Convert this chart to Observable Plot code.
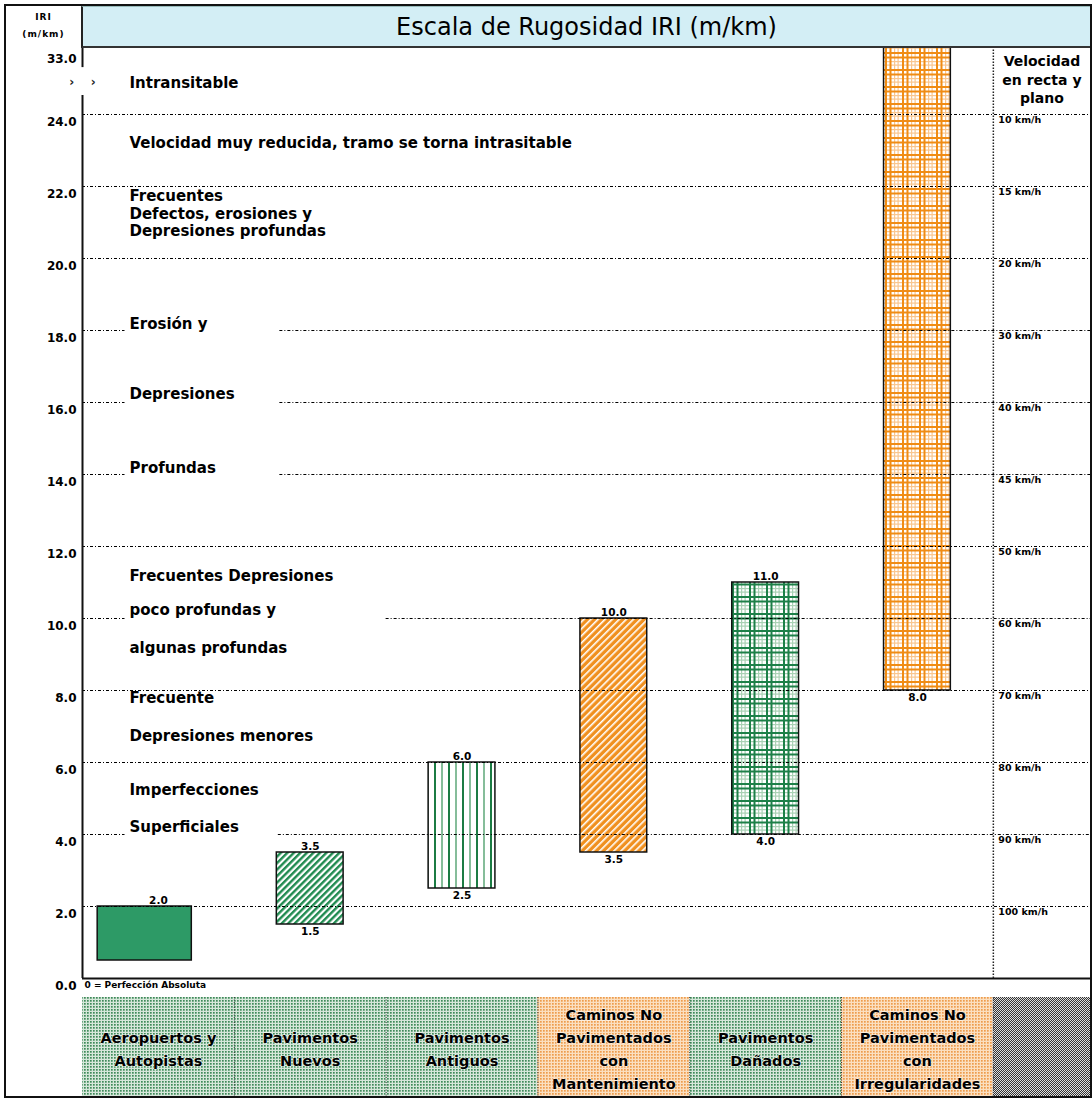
<!DOCTYPE html>
<html>
<head>
<meta charset="utf-8">
<script src="https://cdn.jsdelivr.net/npm/d3@7"></script>
<script src="https://cdn.jsdelivr.net/npm/@observablehq/plot@0.6"></script>
<style>
  body { margin: 0; background: #fff; }
  #wrap { position: relative; width: 1092px; height: 1099px; overflow: hidden; background: #fff; }
  #frame { position: absolute; left: 4px; top: 4px; width: 1084px; height: 1090px; border: 2px solid #111; pointer-events: none; }
  #titlebar { position: absolute; left: 81px; top: 6px; width: 1009px; height: 42px; box-sizing: border-box;
    background: #d3eef5; border-left: 2px solid #222; border-bottom: 2px solid #333; border-top: 1px solid #9bb;
    display: flex; align-items: center; justify-content: center;
    font-family: "DejaVu Sans", sans-serif; font-size: 24px; color: #000; }
  #iri { position: absolute; left: 6px; top: 9px; width: 75px; text-align: center;
    font-family: "DejaVu Sans", sans-serif; font-weight: bold; font-size: 9px; line-height: 17px; letter-spacing: 1px; }
  .plot { position: absolute; left: 0; }
</style>
</head>
<body>
<svg width="0" height="0" style="position:absolute">
  <defs>
    <pattern id="hatchG" width="4.6" height="4.6" patternUnits="userSpaceOnUse" patternTransform="rotate(45)">
      <rect width="4.6" height="4.6" fill="#ffffff"/><rect width="2.4" height="4.6" fill="#1f8a4f"/>
    </pattern>
    <pattern id="stripeG" width="14" height="10" patternUnits="userSpaceOnUse">
      <rect width="14" height="10" fill="#ffffff"/>
      <rect x="0" width="2" height="10" fill="#1c7c44"/>
      <rect x="7" width="2" height="10" fill="#86bd9a"/>
    </pattern>
    <pattern id="hatchO" width="5" height="5" patternUnits="userSpaceOnUse" patternTransform="rotate(45)">
      <rect width="5" height="5" fill="#f0901f"/><rect width="1.6" height="5" fill="#ffffff"/>
    </pattern>
    <pattern id="plaidG" width="17" height="17" patternUnits="userSpaceOnUse">
      <rect width="17" height="17" fill="#ffffff"/>
      <g fill="#a9d1b4">
        <rect x="10" width="1.2" height="17"/><rect x="13.5" width="1.2" height="17"/>
        <rect y="10" width="17" height="1.2"/><rect y="13.5" width="17" height="1.2"/>
      </g>
      <g fill="#1d8048">
        <rect x="1" width="2" height="17"/><rect x="5.5" width="2" height="17"/>
        <rect y="1" width="17" height="2"/><rect y="5.5" width="17" height="2"/>
      </g>
    </pattern>
    <pattern id="plaidO" width="17" height="17" patternUnits="userSpaceOnUse">
      <rect width="17" height="17" fill="#ffffff"/>
      <g fill="#f9c68f">
        <rect x="10" width="1.2" height="17"/><rect x="13.5" width="1.2" height="17"/>
        <rect y="10" width="17" height="1.2"/><rect y="13.5" width="17" height="1.2"/>
      </g>
      <g fill="#f08c14">
        <rect x="1" width="2" height="17"/><rect x="5.5" width="2" height="17"/>
        <rect y="1" width="17" height="2"/><rect y="5.5" width="17" height="2"/>
      </g>
    </pattern>
    <pattern id="dotG" width="3" height="3" patternUnits="userSpaceOnUse">
      <rect width="3" height="3" fill="#d6e7da"/><rect width="1.7" height="1.7" fill="#3f8a5a"/>
    </pattern>
    <pattern id="dotO" width="3" height="3" patternUnits="userSpaceOnUse">
      <rect width="3" height="3" fill="#fbdfc0"/><rect width="1.7" height="1.7" fill="#ee9c4c"/>
    </pattern>
    <pattern id="dotK" width="2" height="2" patternUnits="userSpaceOnUse">
      <rect width="2" height="2" fill="#dddddd"/><rect width="1" height="1" fill="#333"/><rect x="1" y="1" width="1" height="1" fill="#333"/>
    </pattern>
  </defs>
</svg>
<div id="wrap">
  <div id="main" class="plot" style="top:0"></div>
  <div id="strip" class="plot" style="top:997px"></div>
  <div id="titlebar">Escala de Rugosidad IRI (m/km)</div>
  <div id="iri">IRI<br>(m/km)</div>
  <div id="frame"></div>
</div>
<script>
// ---------- data ----------
const categories = [
  "Aeropuertos y\nAutopistas",
  "Pavimentos\nNuevos",
  "Pavimentos\nAntiguos",
  "Caminos No\nPavimentados\ncon\nMantenimiento",
  "Pavimentos\nDañados",
  "Caminos No\nPavimentados\ncon\nIrregularidades"
];
const lows  = [0.5, 1.5, 2.5, 3.5, 4.0, 8.0];
const highs = [2.0, 3.5, 6.0, 10.0, 11.0, 33.0];
const topLabels    = ["2.0", "3.5", "6.0", "10.0", "11.0", ""];
const bottomLabels = ["", "1.5", "2.5", "3.5", "4.0", "8.0"];

const yTicks      = [0, 2, 4, 6, 8, 10, 12, 14, 16, 18, 20, 22, 24, 33];
const yTickLabels = ["0.0", "2.0", "4.0", "6.0", "8.0", "10.0", "12.0", "14.0", "16.0", "18.0", "20.0", "22.0", "24.0", "33.0"];

const gridValues  = [2, 4, 6, 8, 10, 12, 14, 16, 18, 20, 22, 24];
const speedLabels = ["100 km/h", "90 km/h", "80 km/h", "70 km/h", "60 km/h", "50 km/h", "45 km/h", "40 km/h", "30 km/h", "20 km/h", "15 km/h", "10 km/h"];

const descTexts = [
  "Intransitable",
  "Velocidad muy reducida, tramo se torna intrasitable",
  "Frecuentes\nDefectos, erosiones y\nDepresiones profundas",
  "Erosión y",
  "Depresiones",
  "Profundas",
  "Frecuentes Depresiones",
  "poco profundas y",
  "algunas profundas",
  "Frecuente",
  "Depresiones menores",
  "Imperfecciones",
  "Superficiales"
];
const descY = [28.3, 23.22, 21.26, 18.2, 16.25, 14.2, 11.2, 10.25, 9.2, 7.8, 6.75, 5.25, 4.22];

const speedHeader = "Velocidad\nen recta y\nplano";
const zeroNote = "0 = Perfección Absoluta";

// ---------- styles / layout ----------
const barFills  = ["#2d9a66", "url(#hatchG)", "url(#stripeG)", "url(#hatchO)", "url(#plaidG)", "url(#plaidO)"];
const cellFills = ["url(#dotG)", "url(#dotG)", "url(#dotG)", "url(#dotO)", "url(#dotG)", "url(#dotO)", "url(#dotK)"];
const nCat = categories.length;
const xMax = 6.64;                     // extra column for speed labels
const gapEnd = {4: 1.29, 10: 2.0, 14: 1.30, 16: 1.30, 18: 1.30}; // line breaks for labels
const FONT = "DejaVu Sans";

// broken axis: above 24 the scale is compressed
const yTransform = v => v <= 24 ? v : 24 + (v - 24) * (67 / 9 / 36);

const bars = categories.map((c, i) => ({i, low: lows[i], high: highs[i], top: topLabels[i], bottom: bottomLabels[i]}));
const gridSegs = gridValues.flatMap(v => gapEnd[v] !== undefined
  ? [{y: v, x1: 0, x2: 0.28}, {y: v, x1: gapEnd[v], x2: xMax}]
  : [{y: v, x1: 0, x2: xMax}]);
const axisSegs = [{y1: 0, y2: 26.55}, {y1: 30.3, y2: 33}];
const desc = descTexts.map((t, i) => ({t, y: descY[i]}));
const speeds = gridValues.map((v, i) => ({v, t: speedLabels[i]}));
const ticks = yTicks.map((v, i) => ({v, t: yTickLabels[i]}));
const tickStyle = {x: 0, y: "v", text: "t", textAnchor: "end", dx: -6, lineAnchor: "top",
  fontSize: 12, fontWeight: "bold", ariaLabel: "ticklbl"};

const main = Plot.plot({
  width: 1092, height: 1000,
  marginLeft: 82, marginRight: 2, marginTop: 47, marginBottom: 22,
  x: {domain: [0, xMax], range: [82, 1090], axis: null},
  y: {domain: [0, yTransform(33)], range: [978, 47], transform: yTransform, axis: null},
  color: {type: "identity"},
  style: {fontFamily: FONT, fontSize: "10px", color: "#000", background: "transparent", overflow: "visible"},
  marks: [
    Plot.rect(bars, {x1: d => d.i + (d.i === 0 ? 0.10 : 0.28), x2: d => d.i + 0.72, y1: "low", y2: "high",
      fill: d => barFills[d.i], stroke: "#111", strokeWidth: 1.5}),
    Plot.ruleY(gridSegs, {y: "y", x1: "x1", x2: "x2", stroke: "#000", strokeWidth: 1.2, strokeDasharray: "3,2,1,2"}),
    Plot.ruleY([0], {stroke: "#111", strokeWidth: 2}),
    Plot.ruleX(axisSegs, {x: 0, y1: "y1", y2: "y2", stroke: "#111", strokeWidth: 2}),
    Plot.ruleX([nCat], {y1: 0, y2: 33, stroke: "#222", strokeWidth: 1.5, strokeDasharray: "1.5,1.5"}),
    Plot.text(["›    ›"], {x: 0, y: 28.3, fontSize: 12, fontWeight: "bold", fill: "#222"}),
    Plot.text(bars.filter(d => d.top), {x: d => d.i + 0.5, y: "high", text: "top", lineAnchor: "bottom", dy: -3,
      fontSize: 10.5, fontWeight: "bold"}),
    Plot.text(bars.filter(d => d.bottom), {x: d => d.i + 0.5, y: "low", text: "bottom", lineAnchor: "top", dy: 3,
      fontSize: 10.5, fontWeight: "bold"}),
    Plot.text(ticks.filter(d => d.v !== 33), {...tickStyle, dy: 3}),
    Plot.text(ticks.filter(d => d.v === 33), {...tickStyle, dy: 7}),
    Plot.text(speeds, {x: nCat, y: "v", text: "t", textAnchor: "start", dx: 5, lineAnchor: "top", dy: 2,
      fontSize: 9.5, fontWeight: "bold", ariaLabel: "speedlbl"}),
    Plot.text([speedHeader], {x: (nCat + xMax) / 2, y: 33, lineAnchor: "top", dy: 6, fontSize: 14,
      fontWeight: "bold", lineHeight: 1.3}),
    Plot.text(desc, {x: 0, y: "y", text: "t", textAnchor: "start", dx: 47, fontSize: 15, fontWeight: "bold",
      lineHeight: 1.17, ariaLabel: "desc"}),
    Plot.text([zeroNote], {x: 0, y: 0, textAnchor: "start", dx: 2, lineAnchor: "top", dy: 3, fontSize: 9,
      fontWeight: "bold", ariaLabel: "zero"})
  ]
});
d3.select(main).selectAll('g[aria-label="ticklbl"] text').style("letter-spacing", "1.6px");
d3.select(main).selectAll('g[aria-label="speedlbl"] text').style("letter-spacing", "1.4px");
d3.select(main).selectAll('g[aria-label="zero"] text').style("letter-spacing", "1.2px");
d3.select(main).selectAll('g[aria-label="desc"] text').style("letter-spacing", "0.3px");
document.getElementById("main").appendChild(main);

const cells = cellFills.map((f, i) => ({i, f}));
const strip = Plot.plot({
  width: 1092, height: 99,
  marginLeft: 82, marginRight: 2, marginTop: 0, marginBottom: 0,
  x: {domain: [0, xMax], range: [82, 1090], axis: null},
  y: {domain: [0, 1], axis: null},
  color: {type: "identity"},
  style: {fontFamily: FONT, fontSize: "14px", color: "#000", background: "transparent"},
  marks: [
    Plot.rect(cells, {x1: d => d.i, x2: d => Math.min(d.i + 1, xMax), y1: 0, y2: 1, fill: d => d.f}),
    Plot.ruleX(d3.range(1, nCat + 1), {stroke: "#333", strokeWidth: 1, strokeDasharray: "1,1.5"}),
    Plot.text(categories, {x: (d, i) => i + 0.5, y: 0.5, text: d => d, fontSize: 14.5, fontWeight: "bold",
      lineHeight: 1.6, fill: "#000", stroke: "#fff", strokeWidth: 1.5, strokeOpacity: 0.6})
  ]
});
document.getElementById("strip").appendChild(strip);
</script>
</body>
</html>
